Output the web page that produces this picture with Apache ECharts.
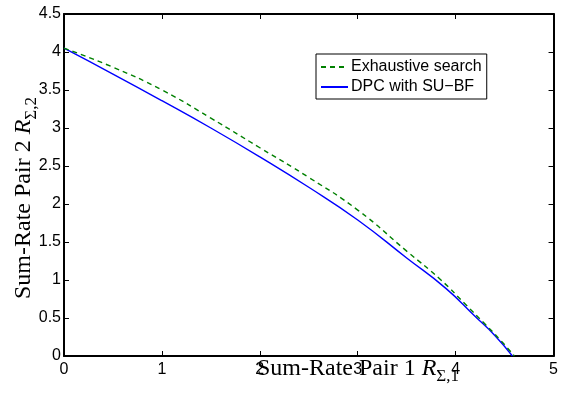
<!DOCTYPE html>
<html>
<head>
    <meta charset="utf-8">
    <script src="https://cdn.jsdelivr.net/npm/echarts@6/dist/echarts.min.js"></script>
    <style>
        body { margin: 0; background: #fff; }
    </style>
</head>
<body>
<div id="main" style="width: 561px;height:397px;"></div>

<script type="text/javascript">
    // data
    var exhX = [0, 0.5, 1, 1.5, 2, 2.5, 3, 3.5, 3.85, 4.1, 4.3, 4.45, 4.6];
    var exhY = [4.05, 3.80, 3.50, 3.13, 2.74, 2.35, 1.92, 1.38, 1.0, 0.68, 0.42, 0.22, 0];
    var dpcX = [0, 0.5, 1, 1.5, 2, 2.5, 3, 3.5, 3.9, 4.2, 4.4, 4.58];
    var dpcY = [4.05, 3.71, 3.36, 3.00, 2.62, 2.22, 1.79, 1.29, 0.89, 0.52, 0.27, 0];
    var xTicks = [0, 1, 2, 3, 4, 5];
    var yTicks = ['0', '0.5', '1', '1.5', '2', '2.5', '3', '3.5', '4', '4.5'];
    var seriesNames = ['Exhaustive search', 'DPC with SU\u2212BF'];

    function pairs(xs, ys) {
        var out = [];
        for (var i = 0; i < xs.length; i++) out.push([xs[i], ys[i]]);
        return out;
    }

    var myChart = echarts.init(document.getElementById('main'));

    var axisLine = { show: true, onZero: false, lineStyle: { color: '#000', width: 2 } };
    var tickIn = { show: true, inside: true, length: 5, lineStyle: { color: '#000', width: 1 } };
    var labelFont = { color: '#000', fontFamily: 'Liberation Sans, Arial', fontSize: 16 };

    var serif = 'Liberation Serif, Times New Roman';
    var rich = {
        a: { fontFamily: serif, fontSize: 24, color: '#000', lineHeight: 32, verticalAlign: 'middle' },
        i: { fontFamily: serif, fontStyle: 'italic', fontSize: 24, color: '#000', lineHeight: 32, verticalAlign: 'middle' },
        s: { fontFamily: serif, fontSize: 17, color: '#000', lineHeight: 30, verticalAlign: 'bottom' }
    };

    var option = {
        animation: false,
        backgroundColor: '#fff',
        grid: { left: 64, right: 6, top: 14, bottom: 41 },
        legend: {
            orient: 'vertical',
            left: 316,
            top: 54,
            itemWidth: 27,
            itemHeight: 10,
            itemGap: 4,
            padding: [5, 5, 4, 4],
            borderColor: '#000',
            borderWidth: 1,
            backgroundColor: '#fff',
            itemStyle: { opacity: 0 },
            textStyle: { color: '#000', fontFamily: 'Liberation Sans, Arial', fontSize: 16, padding: [0, 0, 0, -2] },
            data: seriesNames
        },
        xAxis: [{
            type: 'value', min: 0, max: 5, interval: 1,
            axisLine: axisLine, axisTick: tickIn,
            axisLabel: Object.assign({ margin: 6, formatter: function (v) { return xTicks.indexOf(v) >= 0 ? String(v) : ''; } }, labelFont),
            splitLine: { show: false }
        }, {
            type: 'value', position: 'top', min: 0, max: 5, interval: 1,
            axisLine: axisLine, axisTick: tickIn, axisLabel: { show: false }, splitLine: { show: false }
        }],
        yAxis: [{
            type: 'value', min: 0, max: 4.5, interval: 0.5,
            axisLine: axisLine, axisTick: tickIn,
            axisLabel: Object.assign({ margin: 3, formatter: function (v) { return yTicks[Math.round(v * 2)]; } }, labelFont),
            splitLine: { show: false }
        }, {
            type: 'value', position: 'right', min: 0, max: 4.5, interval: 0.5,
            axisLine: axisLine, axisTick: tickIn, axisLabel: { show: false }, splitLine: { show: false }
        }],
        graphic: [{
            type: 'text',
            left: 257,
            top: 357,
            style: { text: '{a|Sum-Rate Pair 1 }{i|R}{s|\u03A3,1}', rich: rich }
        }, {
            type: 'text',
            x: 24,
            y: 198,
            rotation: Math.PI / 2,
            style: { text: '{a|Sum-Rate Pair 2 }{i|R}{s|\u03A3,2}', rich: rich, align: 'center', verticalAlign: 'middle' }
        }],
        series: [{
            name: seriesNames[0],
            type: 'line',
            symbol: 'none',
            smooth: 0.5,
            data: pairs(exhX, exhY),
            itemStyle: { color: '#008000' },
            lineStyle: { color: '#008000', width: 1.4, type: [5, 4] },
            z: 3
        }, {
            name: seriesNames[1],
            type: 'line',
            symbol: 'none',
            smooth: 0.5,
            data: pairs(dpcX, dpcY),
            itemStyle: { color: '#0000ff' },
            lineStyle: { color: '#0000ff', width: 1.4 },
            z: 2
        }]
    };

    myChart.setOption(option);
</script>
</body>
</html>
